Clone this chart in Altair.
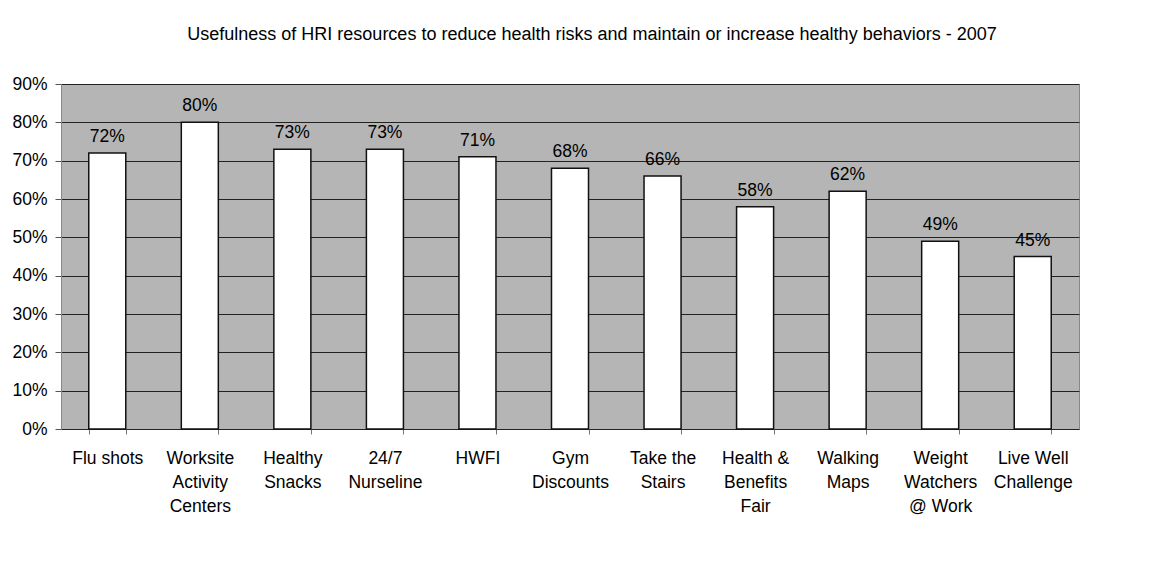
import altair as alt
import pandas as pd

TITLE = "Usefulness of HRI resources to reduce health risks and maintain or increase healthy behaviors - 2007"
categories = [
    "Flu shots",
    "Worksite\nActivity\nCenters",
    "Healthy\nSnacks",
    "24/7\nNurseline",
    "HWFI",
    "Gym\nDiscounts",
    "Take the\nStairs",
    "Health &\nBenefits\nFair",
    "Walking\nMaps",
    "Weight\nWatchers\n@ Work",
    "Live Well\nChallenge",
]
values = [72, 80, 73, 73, 71, 68, 66, 58, 62, 49, 45]
y_ticks = [0, 10, 20, 30, 40, 50, 60, 70, 80, 90]

FONT = "Liberation Sans, Arial, sans-serif"

df = pd.DataFrame({"cat": categories, "val": values})
df["lab"] = [f"{v}%" for v in values]

x_enc = alt.X(
    "cat:N",
    sort=categories,
    title=None,
    scale=alt.Scale(paddingInner=0.6, paddingOuter=0.3),
    axis=alt.Axis(
        labelExpr="split(datum.label, '\\n')",
        labelAngle=0,
        labelFont=FONT,
        labelFontSize=17.5,
        labelColor="#000000",
        labelLineHeight=24,
        labelBaseline="top",
        labelPadding=15,
        tickBand="extent",
        tickSize=5,
        tickColor="#777777",
        domain=False,
        grid=False,
    ),
)
y_enc = alt.Y(
    "val:Q",
    title=None,
    scale=alt.Scale(domain=[0, 90], nice=False),
    axis=alt.Axis(
        values=y_ticks,
        labelExpr="datum.value + '%'",
        labelFont=FONT,
        labelFontSize=17.5,
        labelColor="#000000",
        labelPadding=8,
        labelOverlap=False,
        tickSize=6,
        tickColor="#555555",
        domain=True,
        domainColor="#888888",
        grid=True,
        gridColor="#222222",
        gridWidth=1,
    ),
)

base = alt.Chart(df).encode(x=x_enc, y=y_enc)

bars = base.mark_bar(fill="#ffffff", stroke="#111111", strokeWidth=1.5)

labels = base.mark_text(
    font=FONT, fontSize=17.5, color="#000000", baseline="alphabetic", dy=-11
).encode(text="lab:N")

chart = (
    alt.layer(bars, labels)
    .properties(
        width=1018,
        height=345,
        autosize=alt.AutoSizeParams(type="none"),
        padding={"left": 53, "top": 76, "right": 77, "bottom": 120},
        view=alt.ViewBackground(fill="#b5b5b5", stroke="#888888", strokeWidth=1),
        title=alt.TitleParams(
            TITLE,
            font=FONT,
            fontSize=18,
            fontWeight="normal",
            color="#000000",
            anchor="middle",
            frame="group",
            dx=22,
            offset=31,
        ),
    )
    .configure(background="#ffffff")
)

chart.save("out.html", embed_options={"renderer": "svg", "actions": False})
